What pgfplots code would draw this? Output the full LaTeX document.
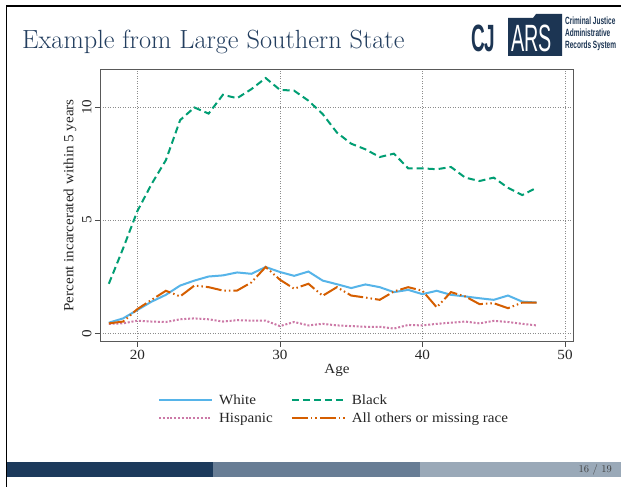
\documentclass[border=0pt]{standalone}
\usepackage{fontspec}
\usepackage{pgfplots}
\pgfplotsset{compat=1.18}
\newfontfamily\chartfont[FakeStretch=1.08]{Liberation Serif}
\newfontfamily\logofont{Liberation Sans}
\definecolor{cwhite}{HTML}{56B4E9}
\definecolor{cblack}{HTML}{009E73}
\definecolor{chisp}{HTML}{CC79A7}
\definecolor{cother}{HTML}{D55E00}
\definecolor{titlecol}{RGB}{35,62,95}
\definecolor{navy}{HTML}{1C3553}
\definecolor{foot1}{HTML}{1C3A5C}
\definecolor{foot2}{HTML}{687D95}
\definecolor{foot3}{HTML}{9AA9B8}
\begin{document}
\begin{tikzpicture}[x=1pt,y=1pt]
\useasboundingbox (0,0) rectangle (621,487);
\fill[white] (0,0) rectangle (621,487);
% footer
\fill[foot1] (7,10) rectangle (213,25);
\fill[foot2] (213,10) rectangle (420,25);
\fill[foot3] (420,10) rectangle (621,25);
\node[anchor=base east, inner sep=0, text=black!75, font=\fontsize{10.5}{11}\selectfont] at (612,14) {16 / 19};
% border
\draw[black, line width=1.4] (6.7,0) -- (6.7,481) -- (621,481);
% title
\node[anchor=base west, inner sep=0, text=titlecol, font=\fontsize{26.3}{30}\selectfont] at (22,438) {Example from Large Southern State};
% logo
\fill[navy] (508,431) -- (562,431) -- (562,473) -- (536,473) -- (533,469) -- (508,469) -- cycle;
\node[anchor=base west, inner sep=0, text=navy, font=\logofont\bfseries\fontsize{38}{38}\selectfont, xscale=0.5] at (471,435) {CJ};
\node[anchor=base west, inner sep=0, text=white, font=\logofont\fontsize{38}{38}\selectfont, xscale=0.52] at (511,435) {ARS};
\node[anchor=base west, inner sep=0, text=navy, font=\logofont\bfseries\fontsize{10.5}{10}\selectfont, xscale=0.62] at (565,462) {Criminal Justice};
\node[anchor=base west, inner sep=0, text=navy, font=\logofont\bfseries\fontsize{10.5}{10}\selectfont, xscale=0.62] at (565,450) {Administrative};
\node[anchor=base west, inner sep=0, text=navy, font=\logofont\bfseries\fontsize{10.5}{10}\selectfont, xscale=0.62] at (565,438) {Records System};
\begin{axis}[
  at={(100pt,145.3pt)}, anchor=south west,
  scale only axis, width=473pt, height=272.7pt,
  xmin=17.38, xmax=50.56, ymin=-0.37, ymax=11.68,
  xtick={20,30,40,50}, ytick={0,5,10},
  xtick pos=lower, ytick pos=left,
  grid=major,
  grid style={black!45, line width=0.6pt, dash pattern=on 1pt off 1.5pt},
  tick align=outside, major tick length=5pt,
  tick style={black!70, line width=0.8pt},
  axis line style={black!65, line width=0.9pt},
  /pgf/number format/assume math mode=true,
  ticklabel style={font=\chartfont\fontsize{14}{16}\selectfont, text=black!85},
  yticklabel style={rotate=90, anchor=south},
  xlabel={Age}, ylabel={Percent incarcerated within 5 years},
  label style={font=\chartfont\fontsize{14}{16}\selectfont, text=black!85},
  xlabel style={at={(axis description cs:0.501,-0.104)}, anchor=center},
  ylabel style={at={(axis description cs:-0.0634,0.5)}, anchor=center},
  legend columns=2,
  legend cell align=left,
  legend style={at={(axis description cs:0.116,-0.178)}, anchor=north west, draw=none, fill=none,
    font=\chartfont\fontsize{14}{16}\selectfont, text=black!85, row sep=3pt,
    /tikz/every even column/.append style={column sep=16pt}},
  legend image code/.code={\draw[#1] (0pt,0pt) -- (53pt,0pt); \path (57pt,0pt);},
]
\addplot[cwhite, line width=2pt, no markers] coordinates {
(18,0.47) (19,0.66) (20,1.03) (21,1.40) (22,1.70) (23,2.11) (24,2.33) (25,2.51) (26,2.56) (27,2.69) (28,2.63) (29,2.93) (30,2.71) (31,2.54) (32,2.73) (33,2.33) (34,2.17) (35,2.00) (36,2.16) (37,2.04) (38,1.82) (39,1.92) (40,1.73) (41,1.88) (42,1.70) (43,1.63) (44,1.55) (45,1.48) (46,1.67) (47,1.40) (48,1.36)};
\addlegendentry{White}
\addplot[cblack, line width=2pt, no markers, dash pattern=on 7pt off 4pt] coordinates {
(18,2.19) (19,3.75) (20,5.40) (21,6.60) (22,7.65) (23,9.42) (24,9.98) (25,9.71) (26,10.54) (27,10.39) (28,10.79) (29,11.28) (30,10.76) (31,10.72) (32,10.28) (33,9.69) (34,8.87) (35,8.38) (36,8.13) (37,7.79) (38,7.94) (39,7.29) (40,7.29) (41,7.25) (42,7.35) (43,6.88) (44,6.73) (45,6.88) (46,6.43) (47,6.11) (48,6.43)};
\addlegendentry{Black}
\addplot[chisp, line width=2pt, no markers, dash pattern=on 2pt off 1.8pt] coordinates {
(18,0.42) (19,0.44) (20,0.56) (21,0.52) (22,0.50) (23,0.62) (24,0.66) (25,0.62) (26,0.52) (27,0.58) (28,0.56) (29,0.56) (30,0.32) (31,0.50) (32,0.35) (33,0.42) (34,0.35) (35,0.32) (36,0.29) (37,0.29) (38,0.21) (39,0.37) (40,0.35) (41,0.42) (42,0.47) (43,0.52) (44,0.44) (45,0.55) (46,0.50) (47,0.42) (48,0.35)};
\addlegendentry{Hispanic}
\addplot[cother, line width=2pt, no markers, dash pattern=on 16pt off 3pt on 1.5pt off 3pt on 1.5pt off 3pt] coordinates {
(18,0.44) (19,0.52) (20,1.07) (21,1.48) (22,1.88) (23,1.63) (24,2.11) (25,2.04) (26,1.89) (27,1.89) (28,2.25) (29,2.93) (30,2.37) (31,1.97) (32,2.19) (33,1.66) (34,2.04) (35,1.67) (36,1.58) (37,1.48) (38,1.85) (39,2.04) (40,1.88) (41,1.15) (42,1.82) (43,1.63) (44,1.29) (45,1.33) (46,1.11) (47,1.36) (48,1.36)};
\addlegendentry{All others or missing race}
\end{axis}
\end{tikzpicture}
\end{document}
